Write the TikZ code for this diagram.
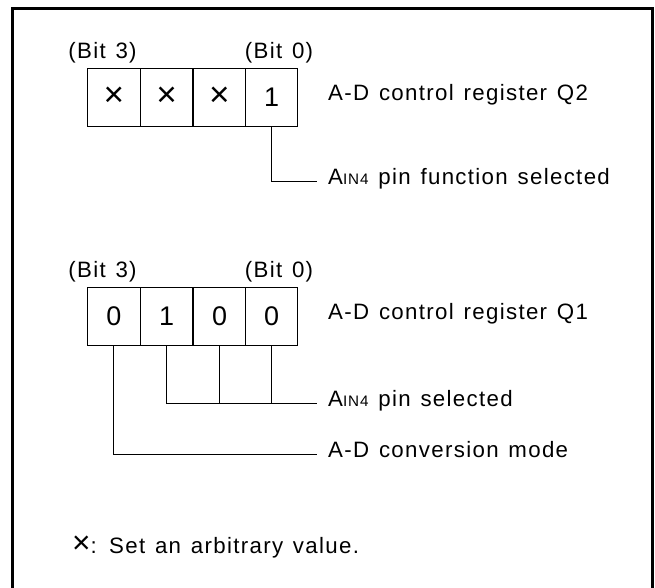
\documentclass[tikz,border=0pt]{standalone}
\usepackage{fontspec}
\setmainfont[LetterSpace=6,WordSpace=1.3]{Liberation Sans}
\tikzset{
  cell/.style={draw, line width=0.8pt, minimum width=15.75mm, minimum height=17.4mm, inner sep=0pt, font=\fontsize{23pt}{25pt}\selectfont},
  txt/.style={inner sep=0pt, font=\fontsize{19pt}{21pt}\selectfont},
  wire/.style={line width=0.8pt}
}
\newcommand{\ain}{A{\fontsize{13pt}{14pt}\selectfont IN4}}
\newcommand{\cross}{{\fontsize{30pt}{30pt}\selectfont ×}}
\begin{document}
\begin{tikzpicture}[x=0.3mm, y=-0.3mm]
\useasboundingbox (0,0) rectangle (655,587);

% outer frame, open at the bottom
\draw [line width=0.9mm] (12.5,590) -- (12.5,8) -- (652.5,8) -- (652.5,590);

% register Q2
\node (q2l3) [txt] at (102.5,53) {(Bit 3)};
\node (q2l0) [txt] at (279,53) {(Bit 0)};
\node (q2b3) [cell] at (113.9,97) {\cross};
\node (q2b2) [cell] at (166.7,97) {\cross};
\node (q2b1) [cell] at (219.5,97) {\cross};
\node (q2b0) [cell] at (271.7,97) {1};
\node (q2name) [txt, anchor=mid west] at (328,97) {A-D control register Q2};
\coordinate (q2c) at (316.7,181.7);
\node (q2fn) [txt, anchor=mid west] at (328,181.7) {\ain{} pin function selected};

% register Q1
\node (q1l3) [txt] at (102.5,272) {(Bit 3)};
\node (q1l0) [txt] at (279,272) {(Bit 0)};
\node (q1b3) [cell] at (113.9,316) {0};
\node (q1b2) [cell] at (166.7,316) {1};
\node (q1b1) [cell] at (219.5,316) {0};
\node (q1b0) [cell] at (271.7,316) {0};
\node (q1name) [txt, anchor=mid west] at (328,316) {A-D control register Q1};
\coordinate (q1c) at (316.7,403);
\coordinate (q1m) at (316.7,454);
\node (q1pin) [txt, anchor=mid west] at (328,403) {\ain{} pin selected};
\node (q1mode) [txt, anchor=mid west] at (328,454) {A-D conversion mode};

\node (note) [txt, anchor=mid west] at (72,550) {{\fontsize{27pt}{27pt}\selectfont ×}: Set an arbitrary value.};

\begin{scope}[wire]
\draw (q2b0.south) |- (q2c);
\draw (q1b2.south) |- (q1c);
\draw (q1b1.south) -- (q1b1.south |- q1c);
\draw (q1b0.south) -- (q1b0.south |- q1c);
\draw (q1b3.south) |- (q1m);
\end{scope}

\end{tikzpicture}
\end{document}
